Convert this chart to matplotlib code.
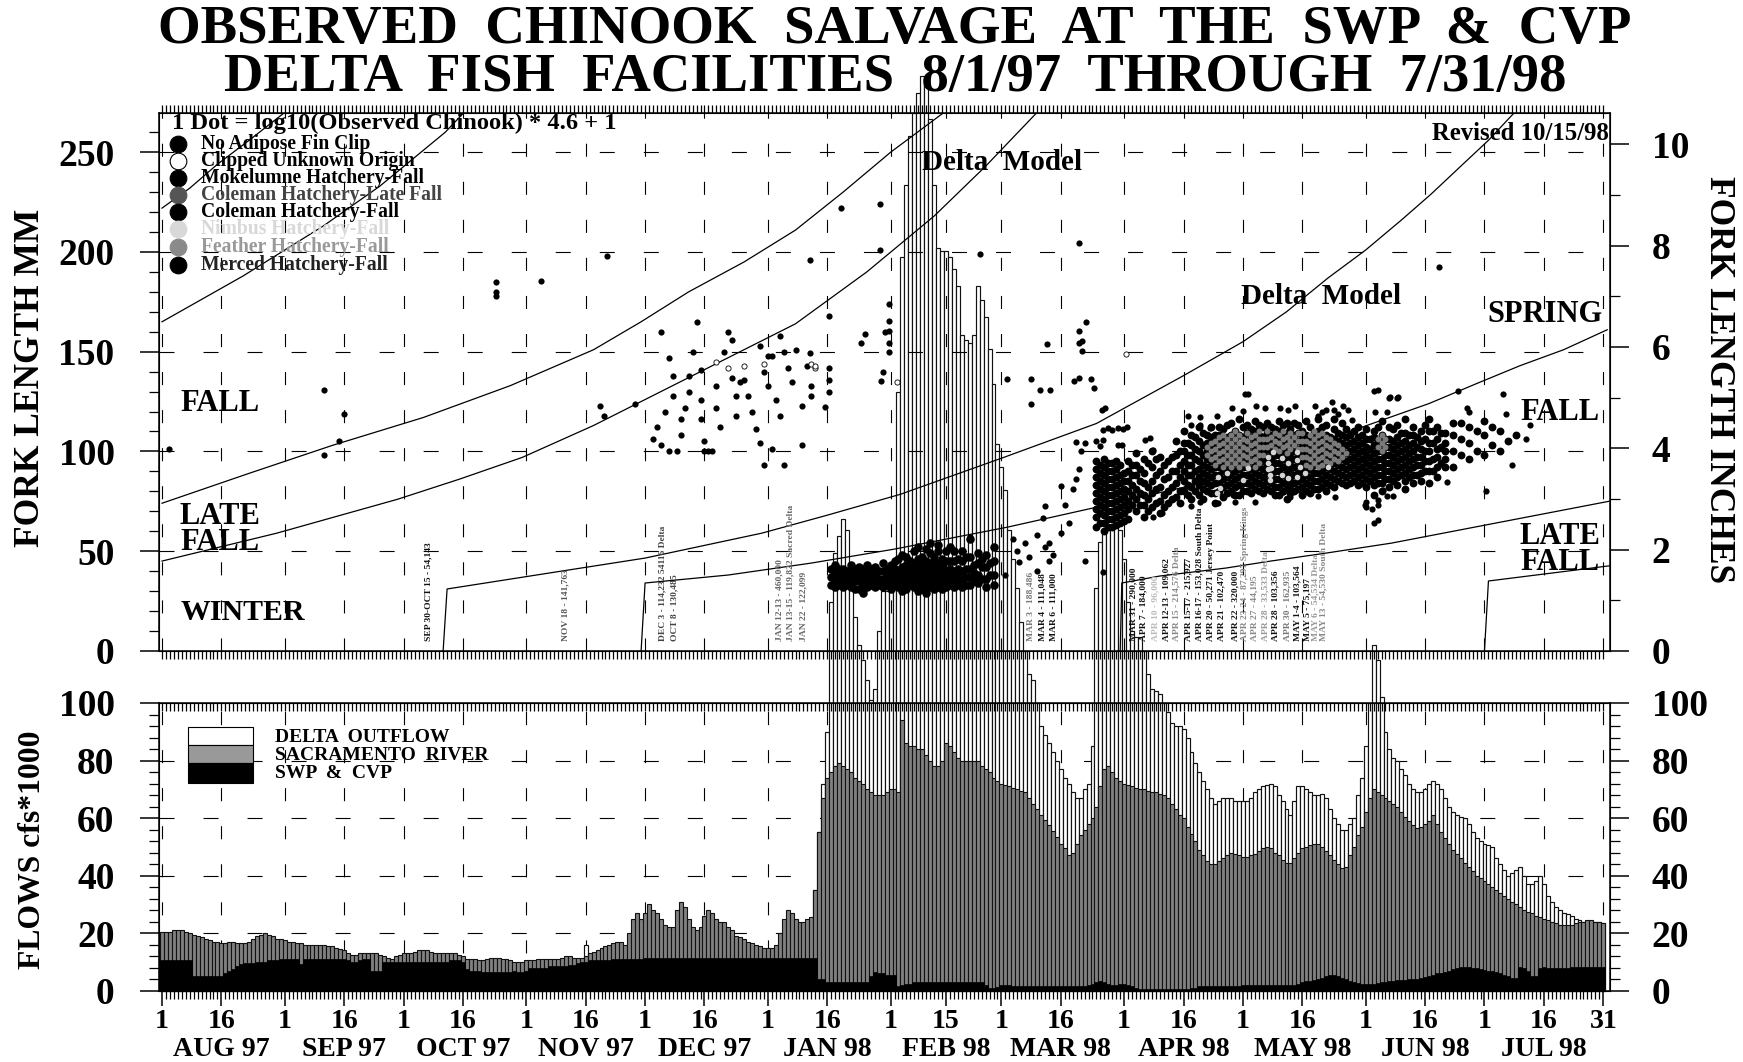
import numpy as np
import matplotlib
matplotlib.use('Agg')
import matplotlib.pyplot as plt
from matplotlib.lines import Line2D
from matplotlib.patches import Rectangle

plt.rcParams['font.family'] = ['Liberation Serif', 'DejaVu Serif']
plt.rcParams['font.weight'] = 'bold'
plt.rcParams['lines.scale_dashes'] = False

W, H = 1743, 1062

# flows, cfs*1000, one value per day from 8/1/97
outflow_aug = [6,6,6,6,6,5,5,5,5,5,5,5,5,5,5,5,5,5,5,5,5,5,6,6,6,6,6,6,6,6,6]
outflow_sep = [6,6,6,6,5,5,5,5,5,5,5,5,5,5,5,5,5,5,5,5,5,5,5,5,5,5,5,5,5,5]
outflow_oct = [5,5,5,5,5,5,5,5,5,5,5,5,5,5,5,5,5,5,5,5,5,5,5,5,5,5,5,5,5,5,5]
outflow_nov = [5,5,5,5,5,6,6,6,6,6,6,6,6,6,7,16,8,8,8,9,9,9,10,10,10,10,10,12,12,12]
outflow_dec = [12,12,12,12,12,12,12,12,12,12,12,12,12,12,12,12,12,12,12,12,12,12,12,12,12,12,12,12,12,12,12]
outflow_jan = [12,12,12,12,12,12,12,12,12,12,12,14,35,55,72,90,135,152,158,164,160,140,130,120,115,108,101,105,125,139,139]
outflow_feb = [140,140,208,255,280,297,305,312,318,315,303,280,258,257,257,255,251,245,228,226,225,228,245,240,234,223,211,190]
outflow_mar = [182,174,160,150,140,128,118,110,108,100,92,89,86,83,80,77,74,72,69,67,67,70,72,85,140,156,159,161,162,163,160]
outflow_apr = [150,135,125,123,123,118,110,105,104,103,100,97,93,92,92,91,88,83,79,76,73,70,67,65,66,67,67,67,66,66]
outflow_may = [66,66,67,69,70,71,71.5,72,71,68,66,63,61,66,71,71,70,69,68,68,68.5,67,63,60,58,56,56,58,60,68,74]
outflow_jun = [85,100,120,115,102,90,84,81,80,77,75,72,70,69,69,70,72,73,72,70,67,64,62,61,60.5,60,58,55,53,52]
outflow_jul = [51,50.5,50,46,44,42,40,41,42,43,40,37,37,38,40,37,33,31,29,28,27,26.5,26,25,24.5,24,24,24,24,24,23.5]

sac_aug = [20.5,20.5,20.5,21,21,21,20.5,20,19.5,19,18.5,18,17.5,17,17,16.5,16.5,17,17,16.5,16.5,16.5,17,18,19,19.5,20,19.5,19,18,18]
sac_sep = [17.5,17,17,16.5,16.5,16,16,16,16,16,16,15.5,15.5,15,14.5,14,13,12.5,12.5,13,13,13,13,13,12.5,12,11.5,11,12,12.5]
sac_oct = [13,13,13,13.5,14,14,14,13.5,13,13,13,13,13,13,12.5,12,11,11,11,10.5,10.5,11,11.5,11.5,11.5,11,11,10.5,10,10,10]
sac_nov = [10.5,10.5,10.5,11,11,11,11,11,11,11.5,12,12,11.5,11.5,11.5,12,13,13.5,14,15,15.5,16,16.5,17,17,16,20,25,27,25]
sac_dec = [27,30,28,27,25,23,22,22,28,31,29,25,22,21,22,26,28,27,25,24,24,22,21,19,18.5,18,17,16.5,16,15.5,15]
sac_jan = [15,15,16,20,25,28,27,25,24,24,25,25.5,35,55,67,74,76,78,79,78,77,76,74,73,72,70,69,68,68,68,69]
sac_feb = [70,70,69,94,86,85,85,84,84,82,80,78,78,80,86,85,83,81,80,80,80,80,80,78,77,76,74,73]
sac_mar = [72,71.5,71,70.5,70,69.5,69,67,65,63,61,59.5,57.5,55.5,53.5,51,49.5,47,48,51,54,56,58,60,64,71,77,78,76,74,73]
sac_apr = [72,71.5,71,70.6,70,70,69.5,69,69,68.5,68,67,65,63,61,60,57,54.5,52,49,47,45,44,44,45,46,47,48,47.5,47]
sac_may = [46.5,46.5,47,47.5,48.5,49.5,50,49.5,48,47,45.5,44.5,44.5,46,48,49.5,50,50.5,51,51,50,48.5,47,45.5,44,42.5,43,47,50,54,57]
sac_jun = [62,67,70,69,68,67,66,65,64,62,60.5,59,57.5,56.5,57,58,59,61,58,55,53,51,49,47.5,46,44.5,43,41.5,40,39]
sac_jul = [38,37,36,35,34,33,32,31,30,29,28,27.5,27,26,25.5,25,24.5,24,23.5,23,23,23,23,23.5,24,24,24.5,24.5,24,24,23.5]

swp_aug = [10.5,10.5,10.5,10.5,10.5,10.5,10.5,10.5,5,5,5,5,5,5,5,5,6,7,7.5,8.5,9.3,9.5,9.5,9.5,10,10,10,10.5,10.5,10.5,11]
swp_sep = [11,11,11,11,9.3,11,11,11,11,11,11,11,11,11,11,11,10.5,10,10,10.5,11,11,7,7,7,10,10,10,10,10]
swp_oct = [10,10,10,10,10,10,10,10,10,10,10,10,10.5,10.5,10.5,10,7.5,7,7,7,6.5,6.5,6.5,6.5,6.5,6.5,6.5,6.5,7,6.5,6.5]
swp_nov = [7,8,8,8,8,8,8.5,8.5,8.5,8.5,8.5,9,9,9.5,10,10,10.5,10.5,10.5,10.5,10.5,10.5,11,11,11,11,11,11,11,11]
swp_dec = [11.5,11.5,11.5,11.5,11.5,11.5,11.5,11.5,11.5,11.5,11.5,11.5,11.5,11.5,11.5,11.5,11.5,11.5,11.5,11.5,11.5,11.5,11.5,11.5,11.5,11.5,11.5,11.5,11.5,11.5,11.5]
swp_jan = [11.5,11.5,11.5,11.5,11.5,11.5,11.5,11.5,11.5,11.5,11.5,11.5,11.5,4,4,3,3,3,3,3,3,3,3,3,3,3,5,6.4,6,6,5.5]
swp_feb = [5.4,5.4,1.6,2,2.5,2.5,3,3,3,3,3,3,3,3,3,3,3,3,3,3,3,3,3,3,2,1,0.8,1.2]
swp_mar = [2,2,2,1.5,1.5,1.5,1.5,1.5,1.5,1.5,1.5,1.5,1.5,1.5,1.5,1.5,1.5,1.5,1.5,1.5,1.5,1.5,2,2.5,3,3.3,3,2.5,2,2,2.5]
swp_apr = [2.5,2,1.5,1,0.5,0.5,0.5,0.5,0.5,0.5,0.5,0.5,0.5,0.5,0.5,0.5,0.5,0.8,1,1.5,1.5,1.5,1.5,1.5,1.5,1.5,1.5,1.5,1.5,1.5]
swp_may = [2,2,2,2,2,2,2,2,2,2,2,2,2,2,2.5,3,3.5,3.5,3.8,4,4.5,5,5.4,5.4,5,4.5,4,3.5,3,2.8,2.5]
swp_jun = [2.5,2.5,2.5,2.8,3,3,3.2,3.5,3.7,3.7,3.8,4,4,4.2,4.5,4.8,5,5.5,6,6.2,6.5,7,7.5,8,8.3,8.3,8.3,8,8,7.5]
swp_jul = [7.2,7,6.8,6.5,6,5.5,5,4.5,4.3,8.3,8,7,5,5,8,8.3,8,8,8,8,8,8,8.3,8.3,8.3,8.3,8.3,8.3,8.3,8.3,8.3]

outflow = outflow_aug + outflow_sep + outflow_oct + outflow_nov + outflow_dec + outflow_jan + outflow_feb + outflow_mar + outflow_apr + outflow_may + outflow_jun + outflow_jul
sac = sac_aug + sac_sep + sac_oct + sac_nov + sac_dec + sac_jan + sac_feb + sac_mar + sac_apr + sac_may + sac_jun + sac_jul
swp = swp_aug + swp_sep + swp_oct + swp_nov + swp_dec + swp_jan + swp_feb + swp_mar + swp_apr + swp_may + swp_jun + swp_jul
days = np.arange(len(sac))

# x ticks, day number from 8/1/97
tick_days = [0,15,31,46,61,76,92,107,122,137,153,168,184,198,212,227,243,258,273,288,304,319,334,349,364]
tick_labels = ['1','16','1','16','1','16','1','16','1','16','1','16','1','15','1','16','1','16','1','16','1','16','1','16','31']
month_days = [15,46,76,107,137,168,198,227,258,288,319,349]
month_labels = ['AUG 97','SEP 97','OCT 97','NOV 97','DEC 97','JAN 98','FEB 98','MAR 98','APR 98','MAY 98','JUN 98','JUL 98']

# size criteria lines, day and fork length mm
curve1_d = [0,7,14,22,31]
curve1_mm = [222,232,244,256,270]
curve2_d = [0,20.5,40.7,55,71.5,76.3]
curve2_mm = [165,188,213,233,260,270]
curve3_d = [0,22,43,66,88,109,121,133,147,160,172,184,197.5]
curve3_mm = [74,89,103,117,133,151,165,180,195,211,230,250,270]
curve4_d = [0,29,59.5,75,91,109,127,144,160,178,195,208,221]
curve4_mm = [45,59,76,86,97,113,131,148,164,190,218,243,270]
curve5_d = [71,72,101,122,151.5,168,186.5,212.6,236,247,258,273,284,294.5,304,313,320.5,328,335,341.6]
curve5_mm = [0,31,40,46.5,59,68,78.5,97,114,126,138,155,170,187,201,216,229,243,256,270]
curve6_d = [121,122,143,164,185,213.5,236,258,281.6,300,320,332,343,354,365]
curve6_mm = [0,34,38,44,51,62,72,82,98,110,124,134,143,151,161]
curve7_d = [242,242.4,252,268.7,280,294,310.5,365.5]
curve7_mm = [0,34,37.5,41.5,45,49,54,75]
curve8_d = [334,335,365.5]
curve8_mm = [0,35,42.6]

# single salvage dots
dot_d = [1.7,41,44.6,46,41,84.4,84.4,84.4,95.6,112.5,110.5,111.6,119.5,126,128,129,129,127,125,124,126,128,130,131,131,132,133,133,134,135,136,136,136,137,137,138,139,140,140,141,142,143,144,144,145,145,146,147,148,149,150,151,152,153,154,155,156,151,153,156,157,158,159,152,154,157,171.5,181.4,181.4,163.6,206.5,231.6,322.4,183.7,168.5,183.7,183.7,182.6,177.6,176.6,183.7,183.7,160,163.6,163,168.5,168.5,168.5,182,181.7,164,164,161.7,167.4,161.7,213.3,219.4,223.5,221.7,224.3,219.4,231.6,230.4,234.6,235.4,233.4,231.6,232.3,231.6,232.3,237.3,237.6,240,242.7,230.8,233,236,236.8,241.4,248.3,232,273.4,306,310,312,327.3,338.7,329.6,330,339.5,345.5,344.5,341,334.5,324.6,306,307,304,303.8,305.5,223,222.5,228,230,231.6,230.8,227,218,215,224,227,229,233,237.6,216.4,224,225,204,213,216,219,221,221,223]
dot_mm = [101,131,105,119,98,185,180,178,185.5,198,123,118,124,160,147,138,128,120,112,106,103,100,100,108,116,122,130,138,150,165,141,126,116,105,100,100,100,133,122,112,150,160,156,137,128,118,135,136,128,120,111,104,140,133,148,126,118,153,148,158,150,142,135,93,101,93,222,224,201,196,199,204.5,192.7,174,168,165.6,160.5,160,159,154.6,154.6,150,151,149.5,143,142,136,130,140,135.4,133,128,123,122.4,103,136.5,136.3,153.7,131,131,124,136.8,135.5,136.5,132,165,160.5,155.4,154.6,150.3,120.7,110.5,110.5,111.4,104.6,104,105,102.5,103,105.5,100,128.7,130.5,127,126.6,130.5,128.7,122,120,119,113,106,93,80,84.6,64,73,72,73,71,72.8,66.5,73,81,91,86,82.6,54,56,54,59,64,45,39.5,44.5,45,48,57,38,50,47,58,40,52]

# outliers around the spring cloud
edge_d = [274.4,276.2,278.6,282.4,286.1,284.5,291.2,295.4,298.3,299.6,300.5,270.2,273.1,266.4,262.2,259.2,260,262.2,264.7,306.3,309.3,307.2,310.2,312.2,292,293,294,296,297,238.2,239,241.5,243.6,237.7,242.4,249.5,250.4,250.4,252.5,260,262.2,266.8,271,270.6,276,283.2,284.9,292,296.2,304.2,307.2,309.3,311,308.4,307.2]
edge_mm = [129,123,121.6,122,123,121,123,125,123,121,115.7,122,120.4,118,117.4,118,113,113,111.5,120,120,131,127.4,127.4,118,120,121,121,119,121.6,111.6,111.6,112.4,105.7,103,106.5,100.7,67,69,72.6,74.8,74,74.8,78,74.8,79.8,77.3,77.6,77.3,74.8,75.6,77.6,77.6,80.6,65.6]

# open circles
open_d = [140,143,147,152,164,165,165,185.7,243.4]
open_mm = [145,142,143,144,144,142,143,135,148.6]

# winter band Jan-Feb, lengths per salvage day
band_d = [169,170,171,172,173,174,175,176,177,178,179,180,181,182,183,184,185,186,187,188,189,190,191,192,193,194,195,196,197,198,199,200,201,202,203,204,205,206,207,208,209,210]
band_mm = [[33,37,41],[32,35,39,43],[33,37,41],[32,35,38,41],[33,37,40],[32,35,39,43],[31,35,38,41],[31,35,39,42],[29,33,37,41],[32,36,40,43],
           [33,37,41],[32,36,39,42],[33,36,40],[32,36,40,44],[33,37,41],[31,35,39,43],[33,37,41,45],[32,36,40,46],[30,34,38,42,48],[31,35,39,43,47],[33,37,41,45],[32,36,40,44,50],
           [30,34,38,42,46,52],[31,35,39,43,47],[29,33,37,41,45,51],[32,36,40,44,49,54],[31,35,39,43,47],[32,36,40,44,50,53],[31,35,39,43,46],[32,36,40,45,50],[33,37,41,45,52],
           [32,36,40,45,50],[33,37,41,46],[32,36,40,45,50],[33,37,41,47],[33,37,41,47,56],[35,39,43],[34,38,44,49],[36,42,46],[32,36,42,48],[38,44],[33,38,45,52]]

# spring cloud, lengths per salvage day
cloud_d = [236,237,238,239,240,241,242,243,244,245,246,247,248,249,250,251,252,253,254,255,256,257,258,259,260,261,262,263,264,265,266,267,268,269,270,271,272,273,274,275,276,277,278,279,280,281,282,283,284,285,286,287,288,289,290,291,292,293,294,295,296,297,298,299,300,301,302,303,304,305,306,307,308,309,310,311,312,313,314,315,316,317,318,319,320,321,322,323,324,326,328,330,332,334,336,338,340,342]
cloud_mm = [[62,67,71,75,79,83,87,91,95],[64,69,73,77,81,85,89,93],[60,64,68,72,76,80,84,88,92,96],[62,66,70,74,78,82,86,90,94],[62,66,70,74,78,82,86,90,94],[63,67,71,75,79,83,87,91,95],[64,68,72,76,80,84,88,93],[65,69,73,77,81,85,89],[66,71,75,80,85,90,95],
            [73,78,83,88,93],[70,76,81,88,93,99],[73,79,85,91],[67,73,78,84,89,96],[70,76,82,94],[72,79,85,92,100],[74,81,88,96],[69,75,82,90,97],[72,78,86,93],[74,80,87,95],[76,82,90,97],[77,84,90,98,105],[74,80,87,93,100],
            [80,85,90,95,100,104,110],[78,83,88,93,98,104],[76,82,88,93,98,103,108],[80,85,90,96,101,107],[78,83,87,91,95,100,105,112],[76,81,85,89,93,98,103,109],[80,84,88,92,96,100,104,108],[79,83,87,91,95,99,103,107,112],[74,79,84,88,92,96,100,104,108],
            [80,84,88,92,96,100,104,108,112],[77,82,86,90,94,98,102,106,111],[79,83,87,91,95,99,103,107,113],[80,84,88,92,96,100,104,108,114],[78,82,86,90,94,98,102,106,110],[78,83,87,91,95,99,103,108,116],[80,84,88,92,96,100,104,107,112],[80,84,88,92,96,100,104,109,113],
            [79,83,87,91,95,99,103,107,111],[81,85,89,93,97,101,105,110,115],[80,84,88,92,96,100,104,108,113],[79,83,87,91,95,99,103,107,112],[81,85,89,93,97,101,105,109,114],[80,84,88,92,96,100,104,108,112],[78,82,86,90,94,98,102,106,111],[78,82,86,90,94,98,102,106,110,115],
            [80,84,88,92,96,100,104,108,113],[76,81,85,89,93,97,101,105,109,114],[79,83,87,91,95,99,103,107,111],[80,84,88,92,96,100,104,108,114],[81,85,89,93,97,101,105,109,113],[78,82,86,90,94,98,102,106,110],[80,84,88,92,96,100,104,108,115],[79,83,87,91,95,99,103,107,112],
            [81,85,89,93,97,101,105,109],[81,85,89,93,97,101,105,110,116],[82,86,90,94,98,102,106,112],[80,84,88,92,96,100,104,108,113],[83,87,91,95,99,103,107],[82,86,90,94,98,102,106,111,116],[85,89,93,97,101,105,109],[84,88,92,96,100,104,108,114],[83,87,91,95,99,103,107,111],
            [84,88,92,96,100,104,108],[85,89,93,97,101,105,110],[83,87,91,95,99,103,107,112],[84,88,92,96,100,104,108],[82,86,90,94,98,102,106,111],[85,89,93,97,101,106],[78,83,87,91,95,99,103,107,110],[84,88,92,96,100,105,112],[80,84,88,92,96,100,104,108,115],[86,90,94,98,102,106],
            [82,86,90,94,98,102,106,112],[85,89,93,97,101,105,111],[83,87,91,95,99,103,107,113],[88,92,96,100,104,109],[81,85,89,93,97,101,105,109,116],[87,91,95,99,103,108],[84,88,92,96,100,104,108,112],[88,93,97,102,107],[85,89,93,97,101,105,110],[90,95,100,106,113],
            [84,90,95,100,104,110,116],[90,96,104,110],[87,92,97,101,106,112],[94,102,109],[92,96,100,104,109],[92,100,108,114],[98,106,114],[96,104,112],[100,110],[98,108,115],[103,112],[100,110],[105],[108]]

# grey dots at the middle of the cloud, then the light ones
grey_d = [264,265,266,267,268,269,270,271,272,273,274,275,276,277,278,279,280,281,282,283,284,285,286,287,288,289,290,291,292,293,294,295,296,297,298,299,307,308,309]
grey_mm = [[98,102],[96,100,104],[93,97,101,105],[95,99,103,107],[92,96,100,104,108],[94,98,102,106],[92,96,100,104,108],[94,98,102,106,110],[92,96,100,104,108],[94,98,102,106],[93,97,101,105,109],[95,99,103,107],[92,96,100,104,108],[94,98,102,106,110],[98,102,106],
           [102,106,110],[103,107],[101,105,109],[100,104,108],[102,106,110],[99,103,107],[101,105,109],[103,107],[101,105,109],[97,101,105,109],[93,97,101,105],[92,96,100,104,108],[94,98,102,106,110],[92,96,100,104,108],[93,97,101,105,109],[95,99,103,107],[94,98,102,106],[96,100,104],[95,99,103],[97,101],[99],[102,106],[100,104,108],[102,106]]
light_d = [266.8,268.9,273.1,274.4,279.4,280.7,280.2,279.8,282.8,284.5,282.8,284.5,286.6,286.6,287.4,288.7,286.6,294.6,279.4,279.4,279.8,267.2,266.4]
light_mm = [87.3,89,85.6,91.5,97.3,99.8,91.5,85.6,96.5,94,88.1,86.5,99.8,95.7,92.3,89,87.3,92,94,91,88,81.5,79]

# small notes standing on the zero line
note_d = [67.3,102,126.5,129.3,156,158.8,161.9,219.4,222.3,225.2,245.3,247.9,250.8,253.6,256.2,259.2,262,265,267.6,271,273.5,276,278.8,281.3,284.2,286.7,289.2,291.4,293.4]
note_text = ['SEP 30-OCT 15 - 54,143','NOV 18 - 141,763','DEC 3 - 114,232 54116 Delta','OCT 8 - 130,485','JAN 12-13 - 460,000','JAN 13-15 - 119,822 Sacred Delta','JAN 22 - 122,099',
             'MAR 3 - 188,486','MAR 4 - 111,048','MAR 6 - 111,000','MAR 31 - 290,000','APR 7 - 184,000','APR 10 - 96,000','APR 12-13 - 109,062','APR 15 - 214,576 Delta',
             'APR 15-17 - 215,927','APR 16-17 - 153,028 South Delta','APR 20 - 50,271 Jersey Point','APR 21 - 102,470','APR 22 - 320,000','APR 23-24 - 87,297 Spring Kings',
             'APR 27 - 44,195','APR 28 - 33,533 Delta','APR 28 - 103,356','APR 30 - 162,935','MAY 1-4 - 103,564','MAY 5 - 75,197','MAY 6 - 54,534 Delta','MAY 13 - 54,530 South Delta']
note_color = ['#111','#555','#444','#444','#666','#666','#666','#777','#111','#111','#111','#111','#bbb','#111','#888','#111','#111','#111','#111','#111','#888','#888','#999','#111','#777','#111','#111','#999','#888']

legend_names = ['No Adipose Fin Clip','Clipped Unknown Origin','Mokelumne Hatchery-Fall','Coleman Hatchery-Late Fall','Coleman Hatchery-Fall','Nimbus Hatchery-Fall','Feather Hatchery-Fall','Merced Hatchery-Fall']
legend_dot = ['black','white','black','#555555','black','#d8d8d8','#8a8a8a','black']
legend_txt = ['black','black','black','#444444','black','#d8d8d8','#999999','#222222']
legend_y = [144,161,178,195,212,229,247,265]


def px(x, y):
    return x / W, 1 - y / H


fig = plt.figure(figsize=(W / 100, H / 100), dpi=100)
L, R = 159, 1610
ax2 = fig.add_axes([L / W, 1 - 990.7 / H, (R - L) / W, (990.7 - 703) / H])
ax1 = fig.add_axes([L / W, 1 - 650.8 / H, (R - L) / W, (650.8 - 113) / H])
ax1.patch.set_alpha(0)
xlim = (-0.76, 365.7)

# flow bars run past the top of their panel, as in the original
ax2.bar(days, outflow, width=1, color='white', edgecolor='#111111', linewidth=0.85, clip_on=False, zorder=2)
ax2.bar(days, sac, width=1, color='#808080', edgecolor='#111111', linewidth=0.8, clip_on=False, zorder=3)
ax2.bar(days, swp, width=1, color='black', edgecolor='black', linewidth=0.5, clip_on=False, zorder=4)

for ax in (ax1, ax2):
    ax.set_xlim(*xlim)
    for d in tick_days:
        ax.axvline(d, color='black', lw=0.8, ls=(0, (9.4, 18)), zorder=1)
    ax.set_xticks(tick_days)
    ax.set_xticks(days, minor=True)
    ax.tick_params(axis='x', which='minor', length=6, width=0.9, direction='out')
    ax.tick_params(axis='x', which='major', length=11, width=1.1, direction='out', labelbottom=False)
    for s in ax.spines.values():
        s.set_linewidth(1.1)

ax1.set_ylim(0, 269.7)
ax1.tick_params(axis='x', which='both', top=True)
ax1.tick_params(axis='x', which='major', length=6, width=0.9)
for v in [50, 100, 150, 200, 250]:
    ax1.axhline(v, color='black', lw=0.8, ls=(0, (10.8, 20.9)), zorder=1)
ax1.set_yticks([0, 50, 100, 150, 200, 250])
ax1.set_yticks(np.arange(0, 270, 10), minor=True)
ax1.tick_params(axis='y', which='major', length=14, width=1.1, labelsize=27, pad=18)
ax1.tick_params(axis='y', which='minor', length=7, width=0.9)
ax1.set_ylabel('FORK LENGTH MM', fontsize=25.5, fontweight='bold', labelpad=0)
ax1.yaxis.set_label_coords(-0.077, 0.507)

ax1r = ax1.twinx()
ax1r.set_ylim(0, 269.7 / 25.4)
ax1r.set_yticks([0, 2, 4, 6, 8, 10])
ax1r.set_yticks(np.arange(0, 11, 1), minor=True)
ax1r.tick_params(axis='y', which='major', length=14, width=1.1, labelsize=27, pad=16)
ax1r.tick_params(axis='y', which='minor', length=7, width=0.9)
ax1r.set_ylabel('FORK LENGTH INCHES', fontsize=25.5, fontweight='bold', rotation=270, labelpad=0)
ax1r.yaxis.set_label_coords(1.086, 0.504)

ax2.set_ylim(0, 100)
for v in [20, 40, 60, 80]:
    ax2.axhline(v, color='black', lw=0.8, ls=(0, (10.8, 20.9)), zorder=1)
ax2.vlines(days, 97.2, 100, color='black', lw=0.9, zorder=5)
ax2.set_yticks([0, 20, 40, 60, 80, 100])
ax2.set_yticks(np.arange(0, 101, 4), minor=True)
ax2.tick_params(axis='y', which='major', length=14, width=1.1, labelsize=27, pad=18)
ax2.tick_params(axis='y', which='minor', length=7, width=0.9)
ax2.set_ylabel('FLOWS cfs*1000', fontsize=22.8, fontweight='bold', labelpad=0)
ax2.yaxis.set_label_coords(-0.077, 0.49)

ax2r = ax2.twinx()
ax2r.set_ylim(0, 100)
ax2r.set_yticks([0, 20, 40, 60, 80, 100])
ax2r.set_yticks(np.arange(0, 101, 4), minor=True)
ax2r.tick_params(axis='y', which='major', length=14, width=1.1, labelsize=27, pad=16)
ax2r.tick_params(axis='y', which='minor', length=7, width=0.9)
ax2.set_zorder(1)
ax2r.set_zorder(2)
ax1.set_zorder(3)
ax1r.set_zorder(2.5)

# size criteria
for cd, cm in [(curve1_d, curve1_mm), (curve2_d, curve2_mm), (curve3_d, curve3_mm), (curve4_d, curve4_mm),
               (curve5_d, curve5_mm), (curve6_d, curve6_mm), (curve7_d, curve7_mm), (curve8_d, curve8_mm)]:
    ax1.plot(cd, cm, color='black', lw=0.9, zorder=4)

# salvage dots
for d, mm in zip(band_d, band_mm):
    ax1.scatter([d] * len(mm), mm, s=38, c='black', linewidths=0, zorder=6, clip_on=False)
for d, mm in zip(cloud_d, cloud_mm):
    ax1.scatter([d] * len(mm), mm, s=32, c='black', linewidths=0, zorder=6)
for d, mm in zip(grey_d, grey_mm):
    ax1.scatter([d] * len(mm), mm, s=18, c='#7a7a7a', linewidths=0, zorder=7)
ax1.scatter(dot_d, dot_mm, s=20, c='black', linewidths=0, zorder=6)
ax1.scatter(edge_d, edge_mm, s=20, c='black', linewidths=0, zorder=6)
ax1.scatter(light_d, light_mm, s=16, c='#d5d5d5', linewidths=0, zorder=8)
ax1.scatter(open_d, open_mm, s=14, facecolors='white', edgecolors='black', linewidths=0.6, zorder=8)

for d, t, c in zip(note_d, note_text, note_color):
    ax1.text(d, 5, t, rotation=90, ha='center', va='bottom', fontsize=6.8, color=c, zorder=9)

# axis text on the figure, positions in pixels
for d, t in zip(tick_days, tick_labels):
    fig.text(ax2.transData.transform((d, 0))[0] / W, 1 - 1022 / H, t, ha='center', va='center', fontsize=20)
for d, t in zip(month_days, month_labels):
    fig.text(ax2.transData.transform((d, 0))[0] / W, 1 - 1049 / H, t, ha='center', va='center', fontsize=20)

fig.text(*px(895, 30), 'OBSERVED  CHINOOK  SALVAGE  AT  THE  SWP  &  CVP', ha='center', va='center', fontsize=39.5)
fig.text(*px(895, 78), 'DELTA  FISH  FACILITIES  8/1/97  THROUGH  7/31/98', ha='center', va='center', fontsize=39.3)

fig.text(*px(172, 123), '1 Dot = log10(Observed Chinook) * 4.6 + 1', ha='left', va='center', fontsize=17.6, zorder=10)
for name, col, tc, y in zip(legend_names, legend_dot, legend_txt, legend_y):
    fig.add_artist(Line2D([178 / W], [1 - y / H], marker='o', ms=12, mfc=col, mec='black' if col in ('white', 'black') else col, mew=0.8, transform=fig.transFigure, zorder=10))
    fig.text(*px(201, y), name, ha='left', va='center', fontsize=14.1, color=tc, zorder=10)

fig.text(*px(1609, 134), 'Revised 10/15/98', ha='right', va='center', fontsize=17.8, zorder=10)
fig.text(*px(922, 163), 'Delta  Model', ha='left', va='center', fontsize=21, zorder=10)
fig.text(*px(1241, 296), 'Delta  Model', ha='left', va='center', fontsize=21, zorder=10)
fig.text(*px(1487, 315), 'SPRING', ha='left', va='center', fontsize=22, zorder=10)
fig.text(*px(1520, 413), 'FALL', ha='left', va='center', fontsize=22, zorder=10)
fig.text(*px(1520, 537), 'LATE', ha='left', va='center', fontsize=22, zorder=10)
fig.text(*px(1520, 563), 'FALL', ha='left', va='center', fontsize=22, zorder=10)
fig.text(*px(180, 403), 'FALL', ha='left', va='center', fontsize=22, zorder=10)
fig.text(*px(180, 516), 'LATE', ha='left', va='center', fontsize=22, zorder=10)
fig.text(*px(180, 542), 'FALL', ha='left', va='center', fontsize=22, zorder=10)
fig.text(*px(181, 612), 'WINTER', ha='left', va='center', fontsize=21.5, zorder=10)

# flow legend boxes
for y0, y1, col in [(727, 745, 'white'), (745, 763, '#999999'), (763, 783, 'black')]:
    fig.add_artist(Rectangle((188 / W, 1 - y1 / H), 65 / W, (y1 - y0) / H, facecolor=col, edgecolor='black', lw=0.8, transform=fig.transFigure, zorder=10))
fig.text(*px(275, 737), 'DELTA  OUTFLOW', ha='left', va='center', fontsize=14, zorder=10)
fig.text(*px(275, 755), 'SACRAMENTO  RIVER', ha='left', va='center', fontsize=14, zorder=10)
fig.text(*px(275, 773), 'SWP  &  CVP', ha='left', va='center', fontsize=14, zorder=10)

fig.savefig('out.png', dpi=100)
